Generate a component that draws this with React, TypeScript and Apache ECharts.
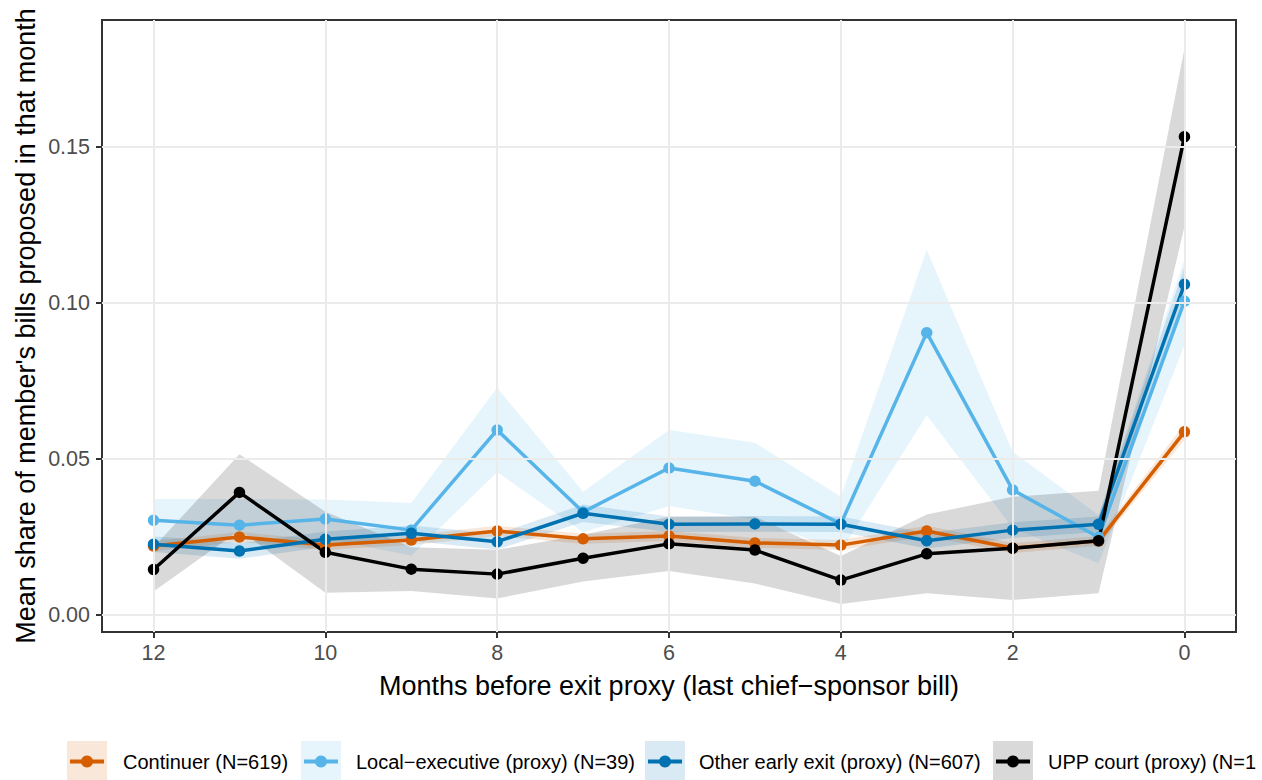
import React, { useEffect, useRef } from "react";
import * as echarts from "echarts";

// Months before the exit proxy (x axis runs from 12 down to 0)
const months = [12, 11, 10, 9, 8, 7, 6, 5, 4, 3, 2, 1, 0];

// Continuer (N=619)
const contMean = [0.0221, 0.025, 0.0224, 0.024, 0.0269, 0.0244, 0.0253, 0.0231, 0.0224, 0.0269, 0.0215, 0.0237, 0.0587];
const contLo = [0.0205, 0.0234, 0.0208, 0.0224, 0.0252, 0.0228, 0.0237, 0.0215, 0.0208, 0.0252, 0.0199, 0.0221, 0.0562];
const contHi = [0.0237, 0.0266, 0.024, 0.0256, 0.0286, 0.026, 0.0269, 0.0247, 0.024, 0.0286, 0.0231, 0.0253, 0.0612];

// Local-executive (proxy) (N=39)
const localMean = [0.0304, 0.0288, 0.0308, 0.0272, 0.0593, 0.033, 0.0471, 0.0429, 0.0292, 0.0905, 0.0401, 0.0249, 0.1006];
const localLo = [0.0236, 0.0204, 0.0246, 0.019, 0.0458, 0.0265, 0.0349, 0.0306, 0.0205, 0.064, 0.0279, 0.0166, 0.0865];
const localHi = [0.0372, 0.0372, 0.037, 0.0359, 0.0728, 0.0395, 0.0593, 0.0552, 0.0379, 0.117, 0.0523, 0.032, 0.114];

// Other early exit (proxy) (N=607)
const otherMean = [0.0227, 0.0205, 0.0243, 0.0262, 0.0235, 0.0326, 0.0291, 0.0292, 0.0291, 0.0238, 0.0272, 0.0291, 0.106];
const otherLo = [0.0202, 0.018, 0.0218, 0.0237, 0.021, 0.0298, 0.0266, 0.0267, 0.0266, 0.0213, 0.0247, 0.0266, 0.1005];
const otherHi = [0.0252, 0.023, 0.0268, 0.0287, 0.026, 0.0354, 0.0316, 0.0317, 0.0316, 0.0263, 0.0297, 0.0316, 0.1115];

// UPP court (proxy)
const uppMean = [0.0146, 0.0393, 0.0201, 0.0147, 0.0131, 0.0182, 0.0228, 0.0208, 0.0112, 0.0196, 0.0214, 0.0238, 0.1533];
const uppLo = [0.0075, 0.0272, 0.0071, 0.0077, 0.0053, 0.0107, 0.0141, 0.0101, 0.0035, 0.007, 0.0048, 0.007, 0.1245];
const uppHi = [0.0217, 0.0515, 0.0331, 0.0217, 0.0209, 0.0257, 0.0315, 0.0315, 0.0189, 0.0322, 0.0379, 0.0398, 0.1816];

const groupNames = [
  "Continuer (N=619)",
  "Local\u2212executive (proxy) (N=39)",
  "Other early exit (proxy) (N=607)",
  "UPP court (proxy) (N=1",
];

const xTicks = [0, 2, 4, 6, 8, 10, 12];
const yTicks = [0, 0.05, 0.1, 0.15];

const FONT = "'Liberation Sans', Arial, Helvetica, sans-serif";

const groups = [
  { name: groupNames[0], color: "#D55E00", rgb: "213,94,0", mean: contMean, lo: contLo, hi: contHi },
  { name: groupNames[1], color: "#56B4E9", rgb: "86,180,233", mean: localMean, lo: localLo, hi: localHi },
  { name: groupNames[2], color: "#0072B2", rgb: "0,114,178", mean: otherMean, lo: otherLo, hi: otherHi },
  { name: groupNames[3], color: "#000000", rgb: "0,0,0", mean: uppMean, lo: uppLo, hi: uppHi },
];

// legend layout (key box left edge, label left edge)
const legendKeyX = [67, 301, 645, 993];
const legendTextX = [123, 356, 699, 1048];

export default function App() {
  const ref = useRef<HTMLDivElement>(null);

  useEffect(() => {
    if (!ref.current) return;
    const chart = echarts.init(ref.current, null, { renderer: "svg" });

    // Major grid lines at the labelled breaks only
    const gridSeries = {
      type: "line",
      name: "grid",
      z: 0,
      silent: true,
      symbol: "none",
      data: months.map((m, i) => [m, contMean[i]]),
      lineStyle: { opacity: 0 },
      markLine: {
        silent: true,
        symbol: ["none", "none"],
        label: { show: false },
        lineStyle: { color: "#EBEBEB", width: 2, type: "solid" },
        emphasis: { disabled: true },
        data: [
          ...xTicks.map((v) => ({ xAxis: v })),
          ...yTicks.map((v) => ({ yAxis: v })),
        ],
      },
    };

    const ribbonSeries = groups.map((g) => ({
      type: "custom",
      name: g.name + " band",
      z: 1,
      silent: true,
      clip: false,
      data: months.map((m, i) => [m, g.lo[i], g.hi[i]]),
      encode: { x: 0, y: [1, 2] },
      renderItem: (params: any, api: any) => {
        if (params.dataIndex !== 0) return null;
        const upper = months.map((m, i) => api.coord([m, g.hi[i]]));
        const lower = months.map((m, i) => api.coord([m, g.lo[i]])).reverse();
        return {
          type: "polygon",
          shape: { points: upper.concat(lower) },
          style: { fill: `rgba(${g.rgb},0.15)`, stroke: "none" },
        };
      },
    }));

    const lineSeries = groups.map((g) => ({
      type: "line",
      name: g.name,
      z: 2,
      silent: true,
      symbol: "none",
      data: months.map((m, i) => [m, g.mean[i]]),
      lineStyle: { color: g.color, width: 3.5, join: "round" },
      itemStyle: { color: g.color },
    }));

    const pointSeries = groups.map((g) => ({
      type: "scatter",
      name: g.name + " points",
      z: 3,
      silent: true,
      symbol: "circle",
      symbolSize: 11.5,
      data: months.map((m, i) => [m, g.mean[i]]),
      itemStyle: { color: g.color, opacity: 1 },
    }));

    const legendGraphics: any[] = [];
    groups.forEach((g, i) => {
      const kx = legendKeyX[i];
      legendGraphics.push(
        {
          type: "rect",
          shape: { x: kx, y: 741, width: 40, height: 42 },
          style: { fill: `rgba(${g.rgb},0.15)` },
          silent: true,
        },
        {
          type: "line",
          shape: { x1: kx + 3, y1: 761.5, x2: kx + 37, y2: 761.5 },
          style: { stroke: g.color, lineWidth: 4 },
          silent: true,
        },
        {
          type: "circle",
          shape: { cx: kx + 20, cy: 761.5, r: 6 },
          style: { fill: g.color },
          silent: true,
        },
        {
          type: "text",
          x: legendTextX[i],
          y: 762,
          style: {
            text: g.name,
            fill: "#000000",
            font: `20px ${FONT}`,
            align: "left",
            verticalAlign: "middle",
          },
          silent: true,
        }
      );
    });

    const option: any = {
      animation: false,
      backgroundColor: "#FFFFFF",
      grid: {
        left: 102,
        right: 26,
        top: 20,
        bottom: 148,
        show: true,
        borderColor: "#333333",
        borderWidth: 2,
      },
      xAxis: {
        type: "value",
        inverse: true,
        min: -0.6,
        max: 12.6,
        axisLine: { show: true, onZero: false, lineStyle: { color: "#333333", width: 2 } },
        axisTick: {
          show: true,
          length: 6,
          customValues: xTicks,
          lineStyle: { color: "#333333", width: 2 },
        },
        axisLabel: {
          customValues: xTicks,
          color: "#4D4D4D",
          fontSize: 21.5,
          fontFamily: FONT,
          margin: 10,
        },
        splitLine: { show: false },
      },
      yAxis: {
        type: "value",
        min: -0.00545,
        max: 0.1907,
        axisLine: { show: true, onZero: false, lineStyle: { color: "#333333", width: 2 } },
        axisTick: {
          show: true,
          length: 6,
          customValues: yTicks,
          lineStyle: { color: "#333333", width: 2 },
        },
        axisLabel: {
          customValues: yTicks,
          color: "#4D4D4D",
          fontSize: 21.5,
          fontFamily: FONT,
          margin: 12,
          formatter: (v: number) => v.toFixed(2),
        },
        splitLine: { show: false },
      },
      graphic: [
        {
          type: "text",
          x: 669,
          y: 686,
          style: {
            text: "Months before exit proxy (last chief\u2212sponsor bill)",
            fill: "#000000",
            font: `27px ${FONT}`,
            align: "center",
            verticalAlign: "middle",
          },
          silent: true,
        },
        {
          type: "text",
          x: 26,
          y: 326,
          rotation: Math.PI / 2,
          style: {
            text: "Mean share of member's bills proposed in that month",
            fill: "#000000",
            font: `27px ${FONT}`,
            align: "center",
            verticalAlign: "middle",
          },
          silent: true,
        },
        ...legendGraphics,
      ],
      series: [gridSeries, ...ribbonSeries, ...lineSeries, ...pointSeries],
    };

    chart.setOption(option);
    return () => chart.dispose();
  }, []);

  return (
    <div
      ref={ref}
      style={{ position: "fixed", left: 0, top: 0, width: 1262, height: 780, background: "#FFFFFF" }}
    />
  );
}
